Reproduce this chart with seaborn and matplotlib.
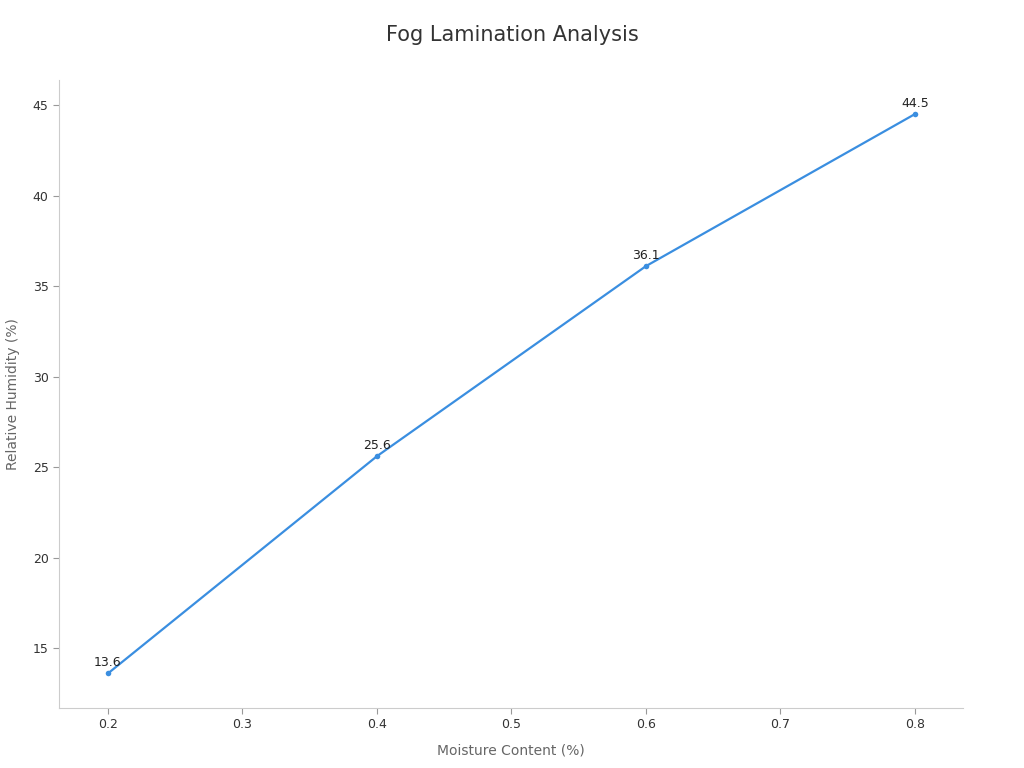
import matplotlib
matplotlib.use("Agg")
import matplotlib.pyplot as plt
import seaborn as sns
import pandas as pd

moisture = [0.2, 0.4, 0.6, 0.8]
humidity = [13.6, 25.6, 36.1, 44.5]
labels = ["13.6", "25.6", "36.1", "44.5"]

sns.set_theme(style="ticks")
plt.rcParams['font.family'] = ['DejaVu Sans']

df = pd.DataFrame({"x": moisture, "y": humidity})
fig = plt.figure(figsize=(10.24, 7.68), dpi=100)
ax = fig.add_axes([0.0576, 0.0781, 0.8828, 0.8177])
color = "#3a8ee0"
sns.lineplot(data=df, x="x", y="y", ax=ax, color=color, linewidth=1.6,
             marker="o", markersize=4, markeredgewidth=0, markerfacecolor=color)
for xv, yv, t in zip(moisture, humidity, labels):
    ax.annotate(t, (xv, yv), xytext=(0, 3), textcoords="offset points",
                ha="center", va="bottom", fontsize=9, color="#222222")

ax.set_xlim(0.1636, 0.8357)
ax.set_ylim(11.69, 46.38)
ax.set_xticks([0.2, 0.3, 0.4, 0.5, 0.6, 0.7, 0.8])
ax.set_yticks([15, 20, 25, 30, 35, 40, 45])
ax.set_xlabel("Moisture Content (%)", fontsize=10, color="#666666", labelpad=9)
ax.set_ylabel("Relative Humidity (%)", fontsize=10, color="#666666", labelpad=9)
ax.tick_params(axis="both", labelsize=9, colors="#333333", length=4, width=0.8)
ax.tick_params(axis="both", color="#999999")
for s in ["top", "right"]:
    ax.spines[s].set_visible(False)
for s in ["left", "bottom"]:
    ax.spines[s].set_color("#cccccc")
    ax.spines[s].set_linewidth(0.8)
fig.suptitle("Fog Lamination Analysis", fontsize=15, color="#333333", y=0.968)
fig.savefig("out.png", dpi=100)
